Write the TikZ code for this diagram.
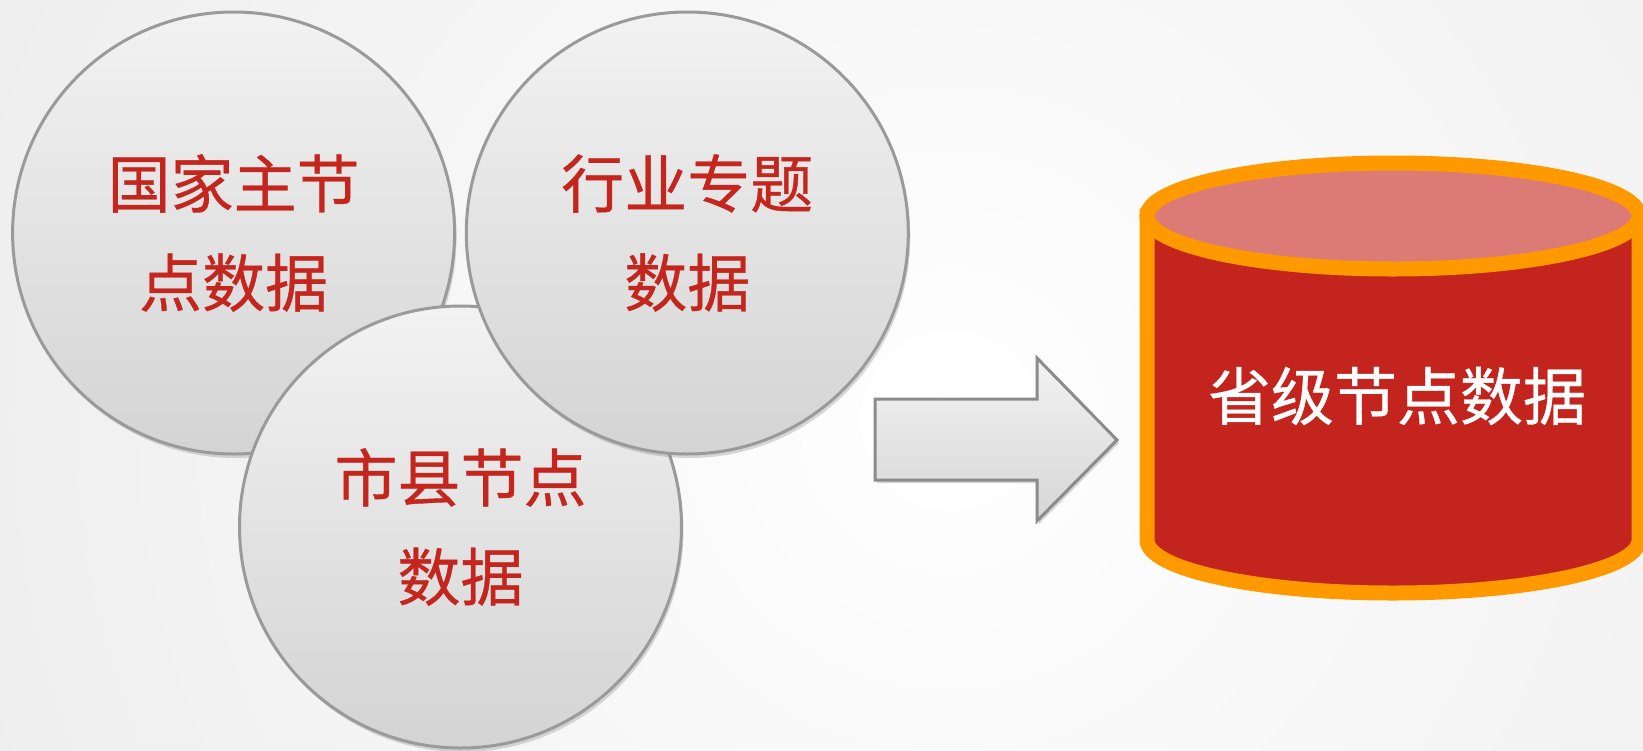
\documentclass[tikz,border=0pt]{standalone}
\usepackage{fontspec}
\newfontfamily\cjk[FakeBold=0.6]{Noto Sans CJK SC}
\usetikzlibrary{shadows}
\definecolor{txtred}{HTML}{C4261D}
\definecolor{cylred}{HTML}{C3241E}
\definecolor{cyltop}{HTML}{DC7B76}
\definecolor{cylline}{HTML}{FF9900}
\definecolor{edgegray}{HTML}{9A9A9A}
\tikzset{
  bubble/.style={circle, draw=edgegray, line width=1.5, minimum size=442*0.5pt,
    top color=white!95!black, bottom color=white!83!black,
    text=txtred, align=center, font=\cjk\fontsize{31.5pt}{49.5pt}\selectfont,
    drop shadow={shadow xshift=1pt, shadow yshift=-2pt, opacity=0.3}},
  blockarrow/.style={draw=edgegray!90!black, line width=1.5,
    top color=white!95!black, bottom color=white!84!black,
    drop shadow={shadow xshift=1pt, shadow yshift=-1.5pt, opacity=0.3}},
  cylbody/.style={fill=cylred, draw=cylline, line width=7.5,
    drop shadow={shadow xshift=0pt, shadow yshift=-3pt, opacity=0.3}},
  cyllid/.style={fill=cyltop, draw=cylline, line width=7.5},
  cyltext/.style={text=white, font=\cjk\fontsize{31.5pt}{40pt}\selectfont}
}
\begin{document}
\begin{tikzpicture}[x=0.5pt,y=-0.5pt]
\useasboundingbox (0,0) rectangle (1643,750);
\begin{scope}
  \clip (0,0) rectangle (1643,750);
  \shade[inner color=white, outer color=black!13] (-1050,-1580) rectangle (2950,2420);
\end{scope}
% circles (drawing order: 1, 3, 2)
\node[bubble] (nat) at (233.6,233) {国家主节\\点数据};
\node[bubble] (city) at (460.5,527) {市县节点\\数据};
\node[bubble] (ind) at (687.3,233) {行业专题\\数据};
% block arrow
\coordinate (atail) at (875,440);
\coordinate (atip) at (1117,440);
\path[blockarrow] (875,399) -- (1037,399) -- (1037,358) -- (atip) -- (1037,521) -- (1037,480) -- (875,480) -- cycle;
% cylinder
\path[cylbody] (1147,216) -- (1147,540) arc[start angle=180, end angle=0, x radius=246, y radius=53] -- (1639,216) -- cycle;
\path[cyllid] (1393,216) ellipse[x radius=246, y radius=53];
\node[cyltext] (prov) at (1397,396) {省级节点数据};
\end{tikzpicture}
\end{document}
